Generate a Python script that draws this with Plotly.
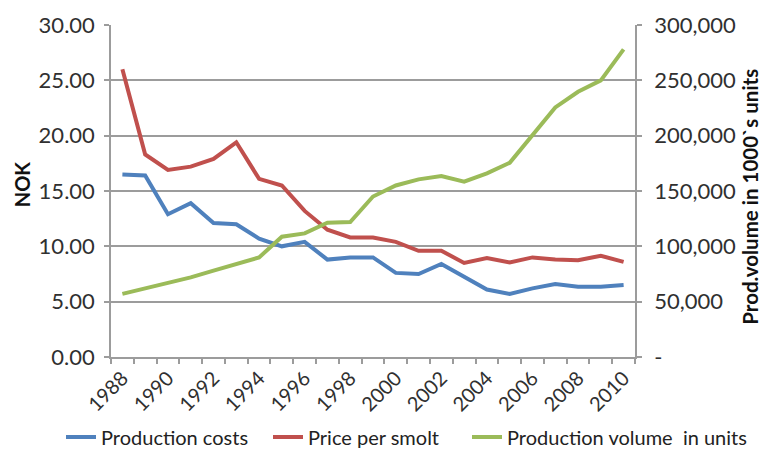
import plotly.graph_objects as go

years = list(range(1988, 2011))
production_costs = [16.5, 16.4, 12.9, 13.9, 12.1, 12.0, 10.7, 10.0, 10.4, 8.8, 9.0, 9.0,
                    7.6, 7.5, 8.4, 7.3, 6.1, 5.7, 6.2, 6.6, 6.35, 6.35, 6.5]
price_per_smolt = [26.0, 18.3, 16.9, 17.2, 17.9, 19.4, 16.1, 15.5, 13.2, 11.5, 10.8, 10.8,
                   10.4, 9.6, 9.6, 8.5, 8.95, 8.55, 9.0, 8.8, 8.75, 9.15, 8.6]
production_volume = [57000, 62000, 67000, 72000, 78000, 84000, 90000, 108700, 111700, 121300,
                     122000, 145000, 155000, 160500, 163500, 158400, 166000, 175500, 200500,
                     225500, 239700, 250000, 278000]

left_ticks = [0, 5, 10, 15, 20, 25, 30]
right_ticks = [0, 50000, 100000, 150000, 200000, 250000, 300000]
right_ticktext = ["-", "50,000", "100,000", "150,000", "200,000", "250,000", "300,000"]
x_ticks = list(range(1988, 2011, 2))

FONT = "Lato"
TICKCOL = "#303030"
GRID = "#9C9C9C"
W, H = 760, 445  # page body has an 8px margin

fig = go.Figure()
fig.add_trace(go.Scatter(x=years, y=production_costs, name="Production costs", mode="lines",
                         line=dict(color="#4F81BD", width=4), legend="legend"))
fig.add_trace(go.Scatter(x=years, y=price_per_smolt, name="Price per smolt", mode="lines",
                         line=dict(color="#C0504D", width=4), legend="legend2"))
fig.add_trace(go.Scatter(x=years, y=production_volume, name="Production volume  in units", mode="lines",
                         line=dict(color="#9BBB59", width=4), yaxis="y2", legend="legend3"))

def leg(xpx):
    return dict(orientation="h", xref="container", yref="container",
                x=xpx / W, xanchor="left", y=(H - 429) / H, yanchor="middle",
                font=dict(family=FONT, size=20, color="#222222"),
                bgcolor="rgba(0,0,0,0)", borderwidth=0)

fig.update_layout(
    width=W, height=H,
    margin=dict(l=103, r=133, t=17, b=96, autoexpand=False),
    paper_bgcolor="white", plot_bgcolor="white",
    font=dict(family=FONT, color=TICKCOL),
    showlegend=True,
    legend=leg(53),
    legend2=leg(260),
    legend3=leg(459),
    xaxis=dict(
        range=[1987.5, 2010.5], tickmode="array", tickvals=x_ticks,
        ticktext=[str(v) for v in x_ticks], tickangle=-45,
        tickfont=dict(family=FONT, size=20, color=TICKCOL),
        ticks="", showgrid=False, zeroline=False, automargin=False,
        showline=True, linecolor=GRID, linewidth=1.5,
        minor=dict(tick0=1987.5, dtick=1, ticks="outside", ticklen=5,
                   tickcolor=GRID, tickwidth=1.5, showgrid=False),
    ),
    yaxis=dict(
        range=[0, 30], tickmode="array", tickvals=left_ticks,
        ticktext=[f"{v:.2f}" for v in left_ticks],
        tickfont=dict(family=FONT, size=22, color=TICKCOL),
        ticks="outside", ticklen=5, tickcolor=GRID, tickwidth=1.5, ticklabelstandoff=5,
        showgrid=True, gridcolor=GRID, gridwidth=1.5, zeroline=False,
        showline=True, linecolor=GRID, linewidth=1.5, automargin=False,
    ),
    yaxis2=dict(
        overlaying="y", side="right", range=[0, 300000], tickmode="array",
        tickvals=right_ticks, ticktext=right_ticktext,
        tickfont=dict(family=FONT, size=22, color=TICKCOL),
        ticks="outside", ticklen=5, tickcolor=GRID, tickwidth=1.5, ticklabelstandoff=8,
        showgrid=False, zeroline=False, automargin=False,
        showline=True, linecolor=GRID, linewidth=1.5,
    ),
    annotations=[
        dict(text="<b>NOK</b>", xref="paper", yref="paper", x=-0.17, y=0.52,
             xanchor="center", yanchor="middle", textangle=-90, showarrow=False,
             font=dict(family=FONT, size=20, color="#111111")),
        dict(text="<b>Prod.volume in 1000`s units</b>", xref="paper", yref="paper",
             x=1.219, y=0.482, xanchor="center", yanchor="middle", textangle=-90,
             showarrow=False, font=dict(family=FONT, size=20.5, color="#111111")),
    ],
)

fig.write_html("out.html")
